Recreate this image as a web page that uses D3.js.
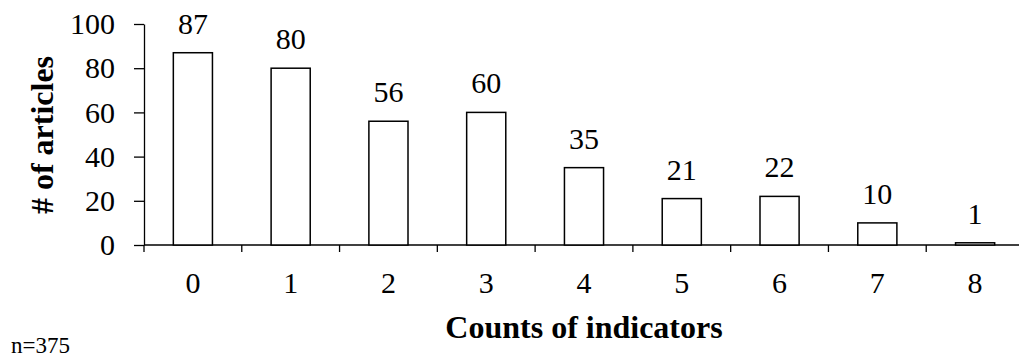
<!DOCTYPE html>
<html><head><meta charset="utf-8">
<script src="https://cdn.jsdelivr.net/npm/d3@7"></script>
<style>body{margin:0;background:#fff}svg{display:block}text{font-family:"Liberation Serif","Times New Roman",serif;fill:#000}</style>
</head><body><svg id="c" width="1019" height="360"></svg>
<script>
const categories = ["0","1","2","3","4","5","6","7","8"];
const values = [87,80,56,60,35,21,22,10,1];
const yTicks = [0,20,40,60,80,100];

const svg = d3.select("#c");
const x = d3.scaleBand().domain(categories).range([144,1024]).paddingInner(0.6).paddingOuter(0.3);
const xb = d3.scaleBand().domain(categories).range([144,1024]);
const y = d3.scaleLinear().domain([0,100]).range([245,24]);

// y axis
const ya = svg.append("g").attr("transform","translate(144,0)")
  .call(d3.axisLeft(y).tickValues(yTicks).tickSize(10).tickSizeOuter(0).tickPadding(19));
ya.select(".domain").attr("stroke","#000").attr("stroke-width",1.3);
ya.selectAll(".tick line").attr("stroke","#000").attr("stroke-width",1.3);
ya.selectAll("text").attr("font-size",30).attr("font-family","Liberation Serif");

// x axis
const xa = svg.append("g").attr("transform","translate(0,245)");
xa.append("line").attr("x1",144).attr("x2",1019).attr("stroke","#000").attr("stroke-width",1.3);
xa.selectAll("line.t").data(categories.concat(["end"])).enter().append("line").attr("class","t")
  .attr("x1",(d,i)=>144+i*xb.bandwidth()).attr("x2",(d,i)=>144+i*xb.bandwidth())
  .attr("y1",0).attr("y2",7).attr("stroke","#000").attr("stroke-width",1.3);
xa.selectAll("text").data(categories).enter().append("text")
  .attr("x",d=>xb(d)+xb.bandwidth()/2).attr("y",48).attr("text-anchor","middle")
  .attr("font-size",30).text(d=>d);

// bars
svg.selectAll("rect.bar").data(values).enter().append("rect").attr("class","bar")
  .attr("x",(d,i)=>x(categories[i])).attr("width",x.bandwidth())
  .attr("y",d=>y(d)).attr("height",d=>y(0)-y(d))
  .attr("fill","#fff").attr("stroke","#000").attr("stroke-width",1.5);

// value labels
svg.selectAll("text.val").data(values).enter().append("text").attr("class","val")
  .attr("x",(d,i)=>x(categories[i])+x.bandwidth()/2).attr("y",d=>y(d)-19)
  .attr("text-anchor","middle").attr("font-size",30).text(d=>d);

// axis titles
svg.append("text").attr("transform","translate(53,135) rotate(-90)").attr("text-anchor","middle")
  .attr("font-size",32).attr("font-weight","bold").text("# of articles");
svg.append("text").attr("x",584).attr("y",338).attr("text-anchor","middle")
  .attr("font-size",32).attr("font-weight","bold").text("Counts of indicators");
svg.append("text").attr("x",11).attr("y",353).attr("font-size",23).text("n=375");
</script></body></html>
